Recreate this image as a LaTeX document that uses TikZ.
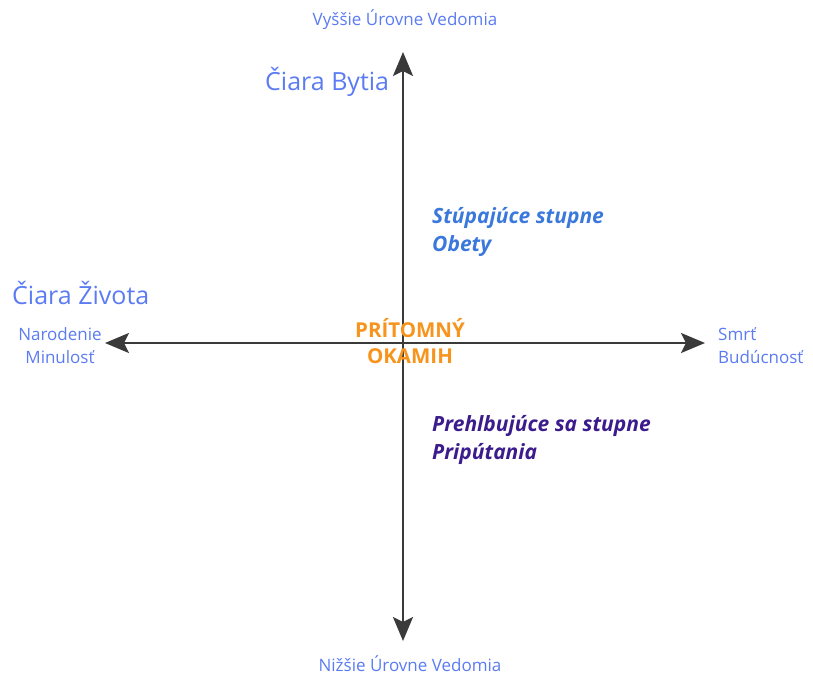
\documentclass[tikz,border=0pt]{standalone}
\usepackage{fontspec}
\setmainfont{Open Sans}
\usetikzlibrary{arrows.meta}
\definecolor{labelblue}{HTML}{5B7BF2}
\definecolor{stepblue}{HTML}{3A78DC}
\definecolor{steppurple}{HTML}{3C1C8C}
\definecolor{nowcol}{HTML}{F7941D}
\definecolor{axiscol}{HTML}{3A3A3A}
\begin{document}
\begin{tikzpicture}[x=1pt,y=-1pt,
  axis/.style={draw=axiscol,line width=2.6pt,-{Stealth[length=24pt,width=20pt,inset=5pt]}},
  small/.style={text=labelblue,font=\fontsize{17}{23}\selectfont,align=center,inner sep=0pt},
  title/.style={text=labelblue,font=\fontsize{25}{30}\selectfont,inner sep=0pt},
  stepnote/.style={font=\fontsize{21}{28}\selectfont\bfseries\itshape,align=left,anchor=west,inner sep=0pt},
  nowlabel/.style={text=nowcol,font=\fontsize{20.5}{26}\selectfont\bfseries,align=center,inner sep=0pt}]
\useasboundingbox (0,0) rectangle (813,677);
% axes
\coordinate (top) at (403,52);
\coordinate (bottom) at (403,641);
\coordinate (left) at (105,343);
\coordinate (right) at (705,343);
\coordinate (mid) at (403,343);
\draw[axis] (mid) -- (top);
\draw[axis] (mid) -- (bottom);
\draw[axis] (mid) -- (left);
\draw[axis] (mid) -- (right);
% labels
\node[small] (up) at (405,20) {Vyššie Úrovne Vedomia};
\node[small] (down) at (410,664) {Nižšie Úrovne Vedomia};
\node[title,anchor=west] (bytia) at (265,82) {Čiara Bytia};
\node[title,anchor=west] (zivota) at (12,293) {Čiara Života};
\node[small] (past) at (60,346) {Narodenie\\Minulosť};
\node[small,align=left,anchor=west] (future) at (718,346) {Smrť\\Budúcnosť};
\node[nowlabel] (now) at (410,341) {PRÍTOMNÝ\\OKAMIH};
\node[stepnote,text=stepblue] (rise) at (432,232) {Stúpajúce stupne\\Obety};
\node[stepnote,text=steppurple] (sink) at (432,440) {Prehlbujúce sa stupne\\Pripútania};
\end{tikzpicture}
\end{document}
